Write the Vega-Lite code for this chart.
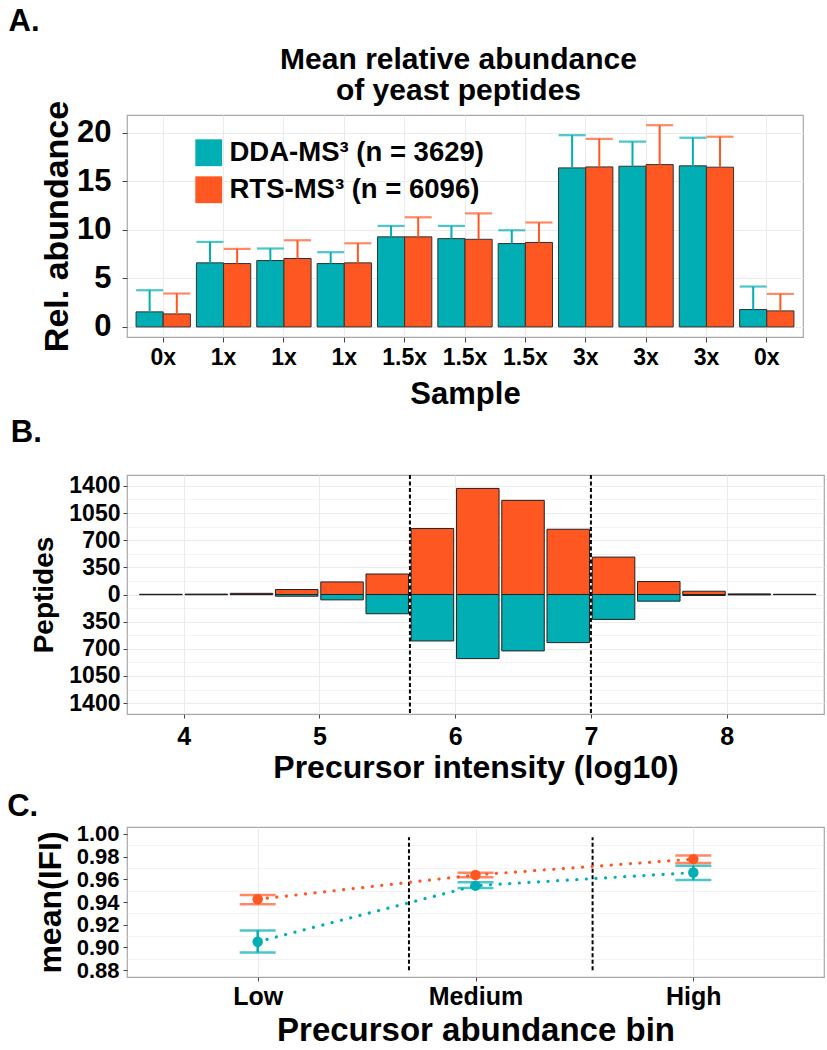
{
  "$schema": "https://vega.github.io/schema/vega-lite/v6.json",
  "background": "white",
  "padding": {"left": 6, "top": 5, "right": 0, "bottom": 0},
  "spacing": 6,
  "columns": 1,
  "align": "none",
  "center": false,
  "config": {
    "font": "Liberation Sans",
    "view": {"stroke": "#A8A8A8", "strokeWidth": 1.2},
    "axis": {"labelFont": "Liberation Sans", "labelFontWeight": "bold", "labelColor": "black", "titleFont": "Liberation Sans", "titleFontWeight": "bold", "titleColor": "black", "domain": false, "tickColor": "#444", "tickSize": 4, "tickWidth": 1, "gridColor": "#EBEBEB", "gridWidth": 1, "labelOverlap": false},
    "title": {"font": "Liberation Sans", "fontWeight": "bold", "fontSize": 31, "anchor": "start", "frame": "bounds", "color": "black"}
  },
  "resolve": {"scale": {"color": "independent"}},
  "concat": [
    {
      "title": {"text": "A.", "dx": -32, "offset": 6},
      "width": 676,
      "height": 222,
      "data": {"values": [
        {"sample": "0x #1", "method": "DDA-MS³ (n = 3629)", "value": 1.55, "err": 3.78},
        {"sample": "0x #1", "method": "RTS-MS³ (n = 6096)", "value": 1.34, "err": 3.44},
        {"sample": "1x #1", "method": "DDA-MS³ (n = 3629)", "value": 6.6, "err": 8.76},
        {"sample": "1x #1", "method": "RTS-MS³ (n = 6096)", "value": 6.53, "err": 8.04},
        {"sample": "1x #2", "method": "DDA-MS³ (n = 3629)", "value": 6.84, "err": 8.08},
        {"sample": "1x #2", "method": "RTS-MS³ (n = 6096)", "value": 7.05, "err": 8.93},
        {"sample": "1x #3", "method": "DDA-MS³ (n = 3629)", "value": 6.53, "err": 7.7},
        {"sample": "1x #3", "method": "RTS-MS³ (n = 6096)", "value": 6.6, "err": 8.62},
        {"sample": "1.5x #1", "method": "DDA-MS³ (n = 3629)", "value": 9.28, "err": 10.41},
        {"sample": "1.5x #1", "method": "RTS-MS³ (n = 6096)", "value": 9.28, "err": 11.3},
        {"sample": "1.5x #2", "method": "DDA-MS³ (n = 3629)", "value": 9.1, "err": 10.41},
        {"sample": "1.5x #2", "method": "RTS-MS³ (n = 6096)", "value": 9.03, "err": 11.7},
        {"sample": "1.5x #3", "method": "DDA-MS³ (n = 3629)", "value": 8.59, "err": 9.96},
        {"sample": "1.5x #3", "method": "RTS-MS³ (n = 6096)", "value": 8.7, "err": 10.76},
        {"sample": "3x #1", "method": "DDA-MS³ (n = 3629)", "value": 16.39, "err": 19.76},
        {"sample": "3x #1", "method": "RTS-MS³ (n = 6096)", "value": 16.49, "err": 19.38},
        {"sample": "3x #2", "method": "DDA-MS³ (n = 3629)", "value": 16.56, "err": 19.1},
        {"sample": "3x #2", "method": "RTS-MS³ (n = 6096)", "value": 16.73, "err": 20.79},
        {"sample": "3x #3", "method": "DDA-MS³ (n = 3629)", "value": 16.6, "err": 19.5},
        {"sample": "3x #3", "method": "RTS-MS³ (n = 6096)", "value": 16.46, "err": 19.6},
        {"sample": "0x #2", "method": "DDA-MS³ (n = 3629)", "value": 1.79, "err": 4.16},
        {"sample": "0x #2", "method": "RTS-MS³ (n = 6096)", "value": 1.65, "err": 3.4}
      ]},
      "encoding": {
        "xOffset": {"field": "method", "type": "nominal", "sort": ["DDA-MS³ (n = 3629)", "RTS-MS³ (n = 6096)"], "scale": {"paddingInner": 0, "paddingOuter": 0}},
        "color": {"field": "method", "type": "nominal", "sort": ["DDA-MS³ (n = 3629)", "RTS-MS³ (n = 6096)"],
          "scale": {"domain": ["DDA-MS³ (n = 3629)", "RTS-MS³ (n = 6096)"], "range": ["#00AEB3", "#FF5722"]},
          "legend": {"title": null, "orient": "none", "legendX": 68, "legendY": 24, "symbolType": "square", "symbolSize": 720, "symbolStrokeWidth": 0, "symbolOpacity": 1, "labelFont": "Liberation Sans", "labelFontWeight": "bold", "labelFontSize": 27.5, "labelColor": "black", "labelOffset": 7, "rowPadding": 8, "labelLimit": 400}}
      },
      "resolve": {"axis": {"x": "independent"}},
      "layer": [
        {
          "mark": {"type": "bar", "stroke": "#333", "strokeWidth": 1},
          "encoding": {
            "x": {"field": "sample", "type": "nominal", "sort": ["0x #1", "1x #1", "1x #2", "1x #3", "1.5x #1", "1.5x #2", "1.5x #3", "3x #1", "3x #2", "3x #3", "0x #2"],
              "scale": {"paddingInner": 0.1, "paddingOuter": 0.15},
              "axis": {"title": "Sample", "labelExpr": "split(datum.value, ' ')[0]", "labelAngle": 0, "labelFontSize": 23, "titleFontSize": 31, "tickSize": 5, "labelPadding": 4, "titlePadding": 10, "bandPosition": 0.5, "grid": true}},
            "y": {"field": "value", "type": "quantitative", "scale": {"domain": [-1.04, 21.84], "nice": false, "zero": false},
              "axis": {"title": "Rel. abundance", "values": [0, 2.5, 5, 7.5, 10, 12.5, 15, 17.5, 20], "labelOverlap": false, "labelExpr": "datum.value % 5 == 0 ? datum.value : ''", "tickOpacity": {"condition": {"test": "datum.value % 5 != 0", "value": 0}, "value": 1}, "gridWidth": {"condition": {"test": "datum.value % 5 != 0", "value": 0.6}, "value": 1.2}, "labelFontSize": 31, "titleFontSize": 34, "tickSize": 5, "labelPadding": 11, "titlePadding": 2}}
          }
        },
        {
          "mark": {"type": "rule", "strokeWidth": 2},
          "encoding": {
            "x": {"field": "sample", "type": "nominal", "sort": ["0x #1", "1x #1", "1x #2", "1x #3", "1.5x #1", "1.5x #2", "1.5x #3", "3x #1", "3x #2", "3x #3", "0x #2"], "axis": null},
            "y": {"field": "value", "type": "quantitative", "title": "Rel. abundance"},
            "y2": {"field": "err"}
          }
        },
        {
          "mark": {"type": "tick", "size": 27, "thickness": 2.2},
          "encoding": {
            "x": {"field": "sample", "type": "nominal", "sort": ["0x #1", "1x #1", "1x #2", "1x #3", "1.5x #1", "1.5x #2", "1.5x #3", "3x #1", "3x #2", "3x #3", "0x #2"],
              "axis": {"orient": "top", "labels": false, "ticks": false, "grid": false, "domain": false, "title": ["Mean relative abundance", "of yeast peptides"], "titleFontSize": 30, "titleLineHeight": 31, "titlePadding": 10, "titleX": 331}},
            "y": {"field": "err", "type": "quantitative", "title": "Rel. abundance"}
          }
        }
      ]
    },
    {
      "title": {"text": "B.", "dx": -20, "offset": 25},
      "width": 697,
      "height": 239,
      "layer": [
        {
          "data": {"values": [
            {"intensity": 3.833, "method": "RTS", "peptides": 3},
            {"intensity": 4.167, "method": "RTS", "peptides": 5},
            {"intensity": 4.5, "method": "RTS", "peptides": 15},
            {"intensity": 4.833, "method": "RTS", "peptides": 64},
            {"intensity": 5.167, "method": "RTS", "peptides": 162},
            {"intensity": 5.5, "method": "RTS", "peptides": 264},
            {"intensity": 5.833, "method": "RTS", "peptides": 850},
            {"intensity": 6.167, "method": "RTS", "peptides": 1367},
            {"intensity": 6.5, "method": "RTS", "peptides": 1213},
            {"intensity": 6.833, "method": "RTS", "peptides": 841},
            {"intensity": 7.167, "method": "RTS", "peptides": 482},
            {"intensity": 7.5, "method": "RTS", "peptides": 167},
            {"intensity": 7.833, "method": "RTS", "peptides": 42},
            {"intensity": 8.167, "method": "RTS", "peptides": 8},
            {"intensity": 8.5, "method": "RTS", "peptides": 3},
            {"intensity": 3.833, "method": "DDA", "peptides": -3},
            {"intensity": 4.167, "method": "DDA", "peptides": -3},
            {"intensity": 4.5, "method": "DDA", "peptides": -2},
            {"intensity": 4.833, "method": "DDA", "peptides": -22},
            {"intensity": 5.167, "method": "DDA", "peptides": -69},
            {"intensity": 5.5, "method": "DDA", "peptides": -248},
            {"intensity": 5.833, "method": "DDA", "peptides": -599},
            {"intensity": 6.167, "method": "DDA", "peptides": -826},
            {"intensity": 6.5, "method": "DDA", "peptides": -727},
            {"intensity": 6.833, "method": "DDA", "peptides": -620},
            {"intensity": 7.167, "method": "DDA", "peptides": -321},
            {"intensity": 7.5, "method": "DDA", "peptides": -86},
            {"intensity": 7.833, "method": "DDA", "peptides": -13},
            {"intensity": 8.167, "method": "DDA", "peptides": -5},
            {"intensity": 8.5, "method": "DDA", "peptides": -2}
          ]},
          "mark": {"type": "bar", "width": 42.5, "stroke": "#222", "strokeWidth": 1},
          "encoding": {
            "x": {"field": "intensity", "type": "quantitative", "scale": {"domain": [3.62, 8.68], "nice": false, "zero": false},
              "axis": {"title": "Precursor intensity (log10)", "values": [4, 5, 6, 7, 8], "format": "d", "labelFontSize": 25, "titleFontSize": 32, "tickSize": 4, "labelPadding": 6, "titlePadding": 3}},
            "y": {"field": "peptides", "type": "quantitative", "stack": null, "scale": {"domain": [-1540, 1540], "nice": false},
              "axis": {"title": "Peptides", "values": [-1400, -1225, -1050, -875, -700, -525, -350, -175, 0, 175, 350, 525, 700, 875, 1050, 1225, 1400], "labelOverlap": false, "labelExpr": "datum.value % 350 == 0 ? format(abs(datum.value), 'd') : ''", "tickOpacity": {"condition": {"test": "datum.value % 350 != 0", "value": 0}, "value": 1}, "gridWidth": {"condition": {"test": "datum.value % 350 != 0", "value": 0.6}, "value": 1.2}, "labelFontSize": 23, "titleFontSize": 28, "tickSize": 4, "labelPadding": 3, "titlePadding": 10}},
            "color": {"field": "method", "type": "nominal", "scale": {"domain": ["DDA", "RTS"], "range": ["#00AEB3", "#FF5722"]}, "legend": null}
          }
        },
        {
          "data": {"values": [{"threshold": 5.667}, {"threshold": 7.0}]},
          "mark": {"type": "rule", "color": "black", "strokeWidth": 2, "strokeDash": [4, 2.5]},
          "encoding": {
            "x": {"field": "threshold", "type": "quantitative"}
          }
        }
      ]
    },
    {
      "title": {"text": "C.", "dx": -27, "offset": 0},
      "width": 697,
      "height": 150,
      "resolve": {"scale": {"x": "independent"}, "axis": {"y": "independent"}},
      "layer": [
        {
          "data": {"values": [{"threshold": 5.667, "ymin": 0.88, "ymax": 0.997}, {"threshold": 7.0, "ymin": 0.88, "ymax": 0.997}]},
          "mark": {"type": "rule", "color": "black", "strokeWidth": 2, "strokeDash": [4, 2.5]},
          "encoding": {
            "x": {"field": "threshold", "type": "quantitative", "scale": {"domain": [3.62, 8.68], "nice": false, "zero": false}, "axis": null},
            "y": {"field": "ymin", "type": "quantitative", "scale": {"domain": [0.874, 1.006], "nice": false, "zero": false},
              "axis": {"orient": "right", "title": null, "values": [0.89, 0.91, 0.93, 0.95, 0.97, 0.99], "labels": false, "ticks": false, "domain": false, "grid": true, "gridWidth": 0.6}},
            "y2": {"field": "ymax"}
          }
        },
        {
          "data": {"values": [
            {"bin": "Low", "method": "RTS", "mean": 0.9424, "lo": 0.938, "hi": 0.9462},
            {"bin": "Medium", "method": "RTS", "mean": 0.9638, "lo": 0.9618, "hi": 0.9658},
            {"bin": "High", "method": "RTS", "mean": 0.9777, "lo": 0.9744, "hi": 0.9809},
            {"bin": "Low", "method": "DDA", "mean": 0.905, "lo": 0.8956, "hi": 0.915},
            {"bin": "Medium", "method": "DDA", "mean": 0.9544, "lo": 0.9523, "hi": 0.9574},
            {"bin": "High", "method": "DDA", "mean": 0.9659, "lo": 0.9594, "hi": 0.972}
          ]},
          "encoding": {
            "x": {"field": "bin", "type": "ordinal", "sort": ["Low", "Medium", "High"], "scale": {"type": "point", "padding": 0.6},
              "axis": {"title": "Precursor abundance bin", "labelAngle": 0, "labelFontSize": 25, "titleFontSize": 33, "tickSize": 4, "labelPadding": 3, "titlePadding": 5, "grid": true}},
            "color": {"field": "method", "type": "nominal", "scale": {"domain": ["DDA", "RTS"], "range": ["#00AEB3", "#FF5722"]}, "legend": null}
          },
          "layer": [
            {
              "mark": {"type": "line", "strokeWidth": 3.2, "strokeDash": [0.1, 9.5], "strokeCap": "round"},
              "encoding": {
                "y": {"field": "mean", "type": "quantitative",
                  "axis": {"orient": "left", "title": "mean(IFI)", "values": [0.88, 0.9, 0.92, 0.94, 0.96, 0.98, 1.0], "format": ".2f", "labelOverlap": false, "gridWidth": 1.2, "labelFontSize": 22, "titleFontSize": 32, "tickSize": 4, "labelPadding": 4, "titlePadding": 9}}
              }
            },
            {
              "mark": {"type": "rule", "strokeWidth": 2.5},
              "encoding": {
                "y": {"field": "lo", "type": "quantitative",
                  "axis": {"orient": "left", "title": "mean(IFI)", "values": [0.88, 0.9, 0.92, 0.94, 0.96, 0.98, 1.0], "format": ".2f", "labelOverlap": false, "gridWidth": 1.2, "labelFontSize": 22, "titleFontSize": 32, "tickSize": 4, "labelPadding": 4, "titlePadding": 9}},
                "y2": {"field": "hi"}
              }
            },
            {
              "mark": {"type": "tick", "size": 36, "thickness": 2.5},
              "encoding": {"y": {"field": "lo", "type": "quantitative",
                  "axis": {"orient": "left", "title": "mean(IFI)", "values": [0.88, 0.9, 0.92, 0.94, 0.96, 0.98, 1.0], "format": ".2f", "labelOverlap": false, "gridWidth": 1.2, "labelFontSize": 22, "titleFontSize": 32, "tickSize": 4, "labelPadding": 4, "titlePadding": 9}}}
            },
            {
              "mark": {"type": "tick", "size": 36, "thickness": 2.5},
              "encoding": {"y": {"field": "hi", "type": "quantitative",
                  "axis": {"orient": "left", "title": "mean(IFI)", "values": [0.88, 0.9, 0.92, 0.94, 0.96, 0.98, 1.0], "format": ".2f", "labelOverlap": false, "gridWidth": 1.2, "labelFontSize": 22, "titleFontSize": 32, "tickSize": 4, "labelPadding": 4, "titlePadding": 9}}}
            },
            {
              "mark": {"type": "point", "filled": true, "opacity": 1, "size": 110},
              "encoding": {"y": {"field": "mean", "type": "quantitative",
                  "axis": {"orient": "left", "title": "mean(IFI)", "values": [0.88, 0.9, 0.92, 0.94, 0.96, 0.98, 1.0], "format": ".2f", "labelOverlap": false, "gridWidth": 1.2, "labelFontSize": 22, "titleFontSize": 32, "tickSize": 4, "labelPadding": 4, "titlePadding": 9}}}
            }
          ]
        }
      ]
    }
  ]
}
